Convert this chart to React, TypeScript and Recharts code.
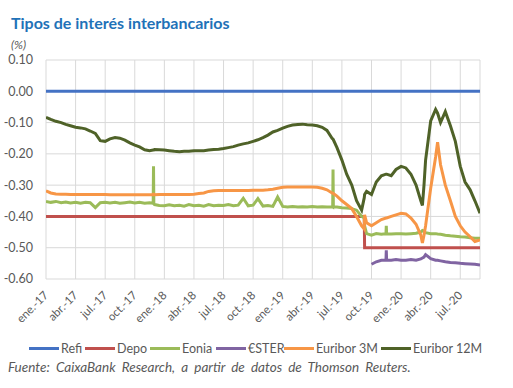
import React from 'react';
import { LineChart, Line, XAxis, YAxis, CartesianGrid } from 'recharts';

const dates = [
  "2017-01-01","2017-01-16","2017-02-01","2017-02-16","2017-03-01","2017-03-16","2017-04-01","2017-04-16","2017-05-01","2017-05-16",
  "2017-06-01","2017-06-16","2017-07-01","2017-07-16","2017-08-01","2017-08-16","2017-09-01","2017-09-16","2017-10-01","2017-10-16",
  "2017-11-01","2017-11-16","2017-11-27","2017-11-28","2017-11-29","2017-12-01","2017-12-16","2018-01-01","2018-01-16","2018-02-01",
  "2018-02-16","2018-03-01","2018-03-16","2018-04-01","2018-04-16","2018-05-01","2018-05-16","2018-06-01","2018-06-16","2018-07-01",
  "2018-07-16","2018-08-01","2018-08-16","2018-09-01","2018-09-16","2018-10-01","2018-10-16","2018-11-01","2018-11-16","2018-12-01",
  "2018-12-16","2019-01-01","2019-01-16","2019-02-01","2019-02-16","2019-03-01","2019-03-16","2019-04-01","2019-04-16","2019-05-01",
  "2019-05-16","2019-06-01","2019-06-03","2019-06-04","2019-06-05","2019-06-16","2019-07-01","2019-07-16","2019-08-01","2019-08-16",
  "2019-09-01","2019-09-09","2019-09-10","2019-09-16","2019-10-01","2019-10-16","2019-11-01","2019-11-15","2019-11-16","2019-11-17","2019-12-01","2019-12-16",
  "2020-01-01","2020-01-16","2020-02-01","2020-02-16","2020-03-01","2020-03-06","2020-03-11","2020-03-16","2020-04-01","2020-04-16",
  "2020-04-22","2020-05-01","2020-05-16","2020-06-01","2020-06-16","2020-07-01","2020-07-16","2020-08-01","2020-08-16","2020-09-01",
];

const euribor12M = [
  -0.083,-0.09,-0.096,-0.1,-0.106,-0.11,-0.115,-0.117,-0.12,-0.127,
  -0.135,-0.158,-0.16,-0.152,-0.148,-0.15,-0.156,-0.165,-0.172,-0.178,
  -0.187,-0.19,-0.188,-0.188,-0.188,-0.186,-0.187,-0.188,-0.19,-0.192,
  -0.193,-0.192,-0.192,-0.19,-0.19,-0.19,-0.188,-0.186,-0.185,-0.183,
  -0.18,-0.177,-0.172,-0.168,-0.165,-0.16,-0.155,-0.148,-0.14,-0.13,
  -0.125,-0.118,-0.112,-0.108,-0.106,-0.105,-0.107,-0.108,-0.11,-0.115,
  -0.125,-0.15,-0.152,-0.153,-0.155,-0.18,-0.22,-0.265,-0.3,-0.35,
  -0.38,-0.34,-0.33,-0.32,-0.33,-0.29,-0.27,-0.265,-0.265,-0.265,-0.27,-0.25,
  -0.24,-0.245,-0.265,-0.3,-0.35,-0.365,-0.3,-0.22,-0.095,-0.058,
  -0.07,-0.1,-0.065,-0.11,-0.16,-0.24,-0.29,-0.315,-0.35,-0.39,
];

const euribor3M = [
  -0.318,-0.325,-0.328,-0.329,-0.329,-0.33,-0.33,-0.33,-0.33,-0.33,
  -0.33,-0.33,-0.33,-0.331,-0.331,-0.331,-0.331,-0.331,-0.331,-0.331,
  -0.331,-0.331,-0.331,-0.325,-0.331,-0.331,-0.33,-0.33,-0.33,-0.33,
  -0.33,-0.33,-0.33,-0.329,-0.327,-0.325,-0.32,-0.318,-0.317,-0.317,
  -0.317,-0.317,-0.317,-0.317,-0.317,-0.316,-0.316,-0.316,-0.315,-0.313,
  -0.31,-0.307,-0.306,-0.306,-0.306,-0.306,-0.306,-0.306,-0.307,-0.31,
  -0.315,-0.325,-0.326,-0.326,-0.327,-0.335,-0.35,-0.362,-0.375,-0.4,
  -0.43,-0.44,-0.395,-0.42,-0.43,-0.42,-0.41,-0.405,-0.405,-0.405,-0.4,-0.395,
  -0.39,-0.392,-0.405,-0.425,-0.46,-0.485,-0.46,-0.43,-0.31,-0.21,
  -0.163,-0.235,-0.3,-0.35,-0.4,-0.43,-0.45,-0.465,-0.48,-0.475,
];

const eonia = [
  -0.352,-0.355,-0.352,-0.356,-0.354,-0.357,-0.355,-0.358,-0.355,-0.356,
  -0.372,-0.356,-0.355,-0.357,-0.355,-0.358,-0.356,-0.354,-0.357,-0.355,
  -0.358,-0.356,-0.358,-0.24,-0.36,-0.362,-0.365,-0.366,-0.363,-0.366,
  -0.364,-0.367,-0.362,-0.366,-0.364,-0.367,-0.362,-0.366,-0.364,-0.365,
  -0.362,-0.366,-0.364,-0.342,-0.366,-0.364,-0.343,-0.367,-0.365,-0.368,
  -0.338,-0.368,-0.37,-0.368,-0.37,-0.369,-0.37,-0.368,-0.37,-0.369,
  -0.37,-0.369,-0.37,-0.25,-0.37,-0.37,-0.372,-0.373,-0.375,-0.38,
  -0.4,-0.405,-0.43,-0.455,-0.46,-0.455,-0.457,-0.455,-0.43,-0.456,-0.456,-0.455,
  -0.455,-0.456,-0.455,-0.454,-0.45,-0.445,-0.447,-0.452,-0.455,-0.455,
  -0.456,-0.457,-0.46,-0.462,-0.463,-0.465,-0.466,-0.468,-0.47,-0.47,
];

const esterDates = [
  "2019-10-01","2019-10-16","2019-11-01","2019-11-15","2019-11-16","2019-11-17","2019-12-01","2019-12-16",
  "2020-01-01","2020-01-16","2020-02-01","2020-02-16","2020-03-01","2020-03-06","2020-03-11","2020-03-16",
  "2020-04-01","2020-04-16","2020-04-22","2020-05-01","2020-05-16","2020-06-01","2020-06-16","2020-07-01",
  "2020-07-16","2020-08-01","2020-08-16","2020-09-01",
];
const esterValues = [
  -0.553,-0.545,-0.54,-0.54,-0.508,-0.54,-0.54,-0.538,
  -0.54,-0.54,-0.538,-0.54,-0.536,-0.533,-0.53,-0.522,
  -0.535,-0.54,-0.54,-0.542,-0.545,-0.547,-0.548,-0.55,
  -0.551,-0.552,-0.553,-0.555,
];

const refiDates = ["2017-01-01", "2020-09-01"];
const refiValues = [0, 0];

const depoDates = ["2017-01-01", "2019-09-09", "2019-09-10", "2020-09-01"];
const depoValues = [-0.4, -0.4, -0.5, -0.5];

const tickLabels = [
  "ene.-17","abr.-17","jul.-17","oct.-17","ene.-18","abr.-18","jul.-18","oct.-18",
  "ene.-19","abr.-19","jul.-19","oct.-19","ene.-20","abr.-20","jul.-20",
];
const yTicks = [0.1, 0, -0.1, -0.2, -0.3, -0.4, -0.5, -0.6];

const FONT = 'Lato, "Open Sans", sans-serif';
const GREY = '#595959';

const COLORS = {
  refi: '#4472C4',
  depo: '#C0504D',
  eonia: '#9BBB59',
  ester: '#8064A2',
  e3: '#F79646',
  e12: '#4F6228',
};

function monthIndex(d: string): number {
  const [y, m, dd] = d.split('-').map(Number);
  const dim = new Date(y, m, 0).getDate();
  return (y - 2017) * 12 + (m - 1) + (dd - 1) / dim;
}

const mainData = dates.map((d, i) => ({
  t: monthIndex(d),
  e12: euribor12M[i],
  e3: euribor3M[i],
  eonia: eonia[i],
}));
const esterData = esterDates.map((d, i) => ({ t: monthIndex(d), v: esterValues[i] }));
const refiData = refiDates.map((d, i) => ({ t: monthIndex(d), v: refiValues[i] }));
const depoData = depoDates.map((d, i) => ({ t: monthIndex(d), v: depoValues[i] }));

const xTicks = tickLabels.map((_, i) => i * 3);

const XTick = (props: any) => {
  const { x, y, payload } = props;
  const idx = Math.round(payload.value / 3);
  return (
    <g transform={`translate(${x + 3},${y + 9})`}>
      <text
        x={0}
        y={0}
        textAnchor="end"
        transform="rotate(-45)"
        fill={GREY}
        fontSize={11.5}
        fontFamily={FONT}
      >
        {tickLabels[idx]}
      </text>
    </g>
  );
};

const legendItems = [
  { label: 'Refi', color: COLORS.refi, left: 29 },
  { label: 'Depo', color: COLORS.depo, left: 85 },
  { label: 'Eonia', color: COLORS.eonia, left: 150 },
  { label: '€STER', color: COLORS.ester, left: 216 },
  { label: 'Euribor 3M', color: COLORS.e3, left: 284 },
  { label: 'Euribor 12M', color: COLORS.e12, left: 381 },
];

export default function App() {
  return (
    <div style={{ position: 'absolute', left: 0, top: 0, width: 513, height: 388, background: '#fff', overflow: 'hidden' }}>
      <div style={{ position: 'absolute', left: 11, top: 13, fontFamily: FONT, fontWeight: 700, fontSize: 16, color: '#1F72B8', whiteSpace: 'nowrap' }}>
        Tipos de interés interbancarios
      </div>
      <div style={{ position: 'absolute', left: 11, top: 37, fontFamily: FONT, fontStyle: 'italic', fontSize: 12, color: GREY }}>
        (%)
      </div>
      <div style={{ position: 'absolute', left: 0, top: 0 }}>
        <LineChart width={513} height={388} margin={{ top: 60, right: 33, bottom: 69, left: 0 }}>
          <CartesianGrid stroke="#D9D9D9" strokeWidth={1} horizontal vertical />
          <XAxis
            dataKey="t"
            type="number"
            domain={[0, 44]}
            ticks={xTicks}
            allowDataOverflow
            axisLine={false}
            tickLine={false}
            tick={<XTick />}
            interval={0}
            height={40}
          />
          <YAxis
            type="number"
            domain={[-0.6, 0.1]}
            ticks={yTicks}
            width={46}
            axisLine={false}
            tickLine={false}
            tickMargin={7}
            tickFormatter={(v: number) => v.toFixed(2)}
            tick={{ fill: GREY, fontSize: 12.5, fontFamily: FONT }}
            interval={0}
          />
          <Line data={refiData} dataKey="v" stroke={COLORS.refi} strokeWidth={3} dot={false} isAnimationActive={false} />
          <Line data={depoData} dataKey="v" stroke={COLORS.depo} strokeWidth={3} dot={false} isAnimationActive={false} />
          <Line data={mainData} dataKey="eonia" stroke={COLORS.eonia} strokeWidth={3} dot={false} isAnimationActive={false} />
          <Line data={esterData} dataKey="v" stroke={COLORS.ester} strokeWidth={3} dot={false} isAnimationActive={false} />
          <Line data={mainData} dataKey="e3" stroke={COLORS.e3} strokeWidth={3} dot={false} isAnimationActive={false} />
          <Line data={mainData} dataKey="e12" stroke={COLORS.e12} strokeWidth={3} dot={false} isAnimationActive={false} />
        </LineChart>
      </div>
      {legendItems.map((it) => (
        <div key={it.label} style={{ position: 'absolute', left: it.left, top: 340, height: 16, display: 'flex', alignItems: 'center', fontFamily: FONT, fontSize: 12.5, color: GREY, whiteSpace: 'nowrap' }}>
          <div style={{ width: 30, height: 3, background: it.color, marginRight: 2 }} />
          <span>{it.label}</span>
        </div>
      ))}
      <div style={{ position: 'absolute', left: 8, top: 359, fontFamily: FONT, fontStyle: 'italic', fontSize: 13.5, color: GREY, whiteSpace: 'nowrap', wordSpacing: 3 }}>
        Fuente: CaixaBank Research, a partir de datos de Thomson Reuters.
      </div>
    </div>
  );
}
